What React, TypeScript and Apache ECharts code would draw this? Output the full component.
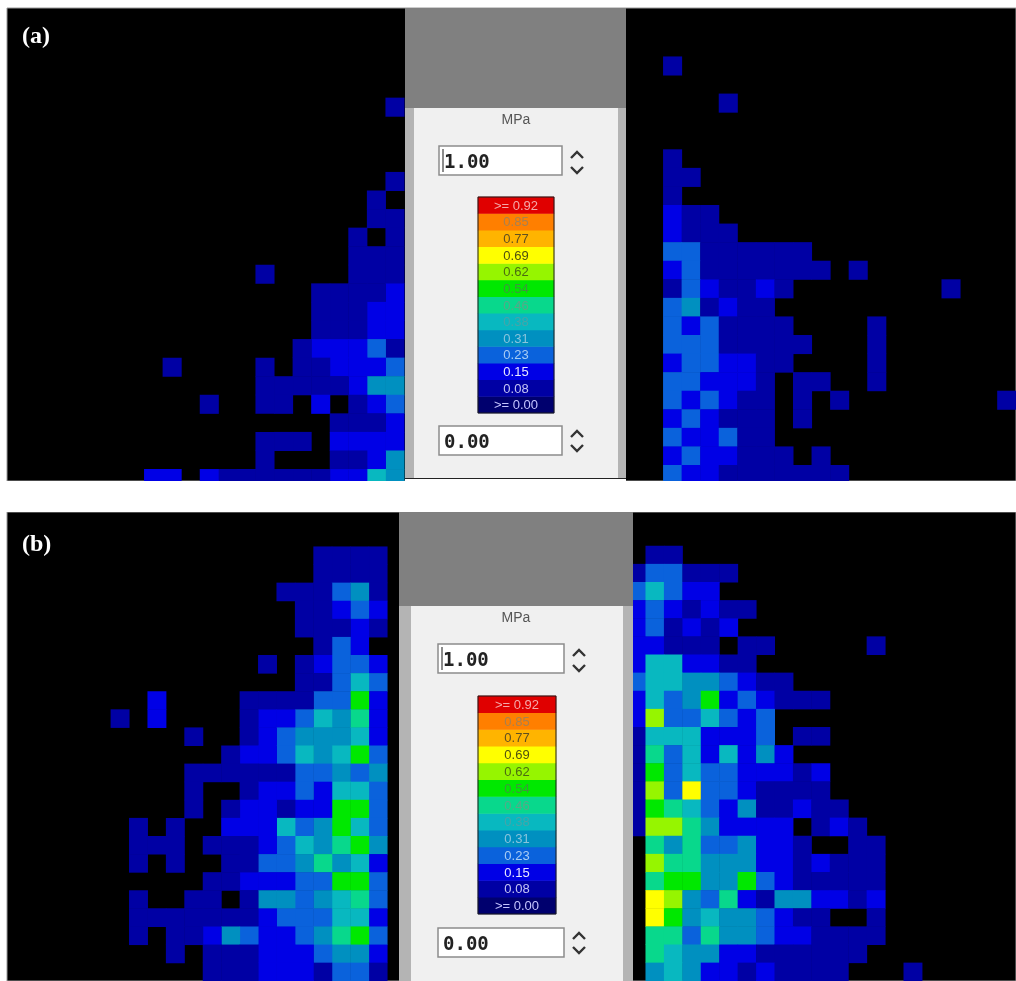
import React, { useEffect, useRef } from "react";
import * as echarts from "echarts";

// Colour scale, lowest to highest (MPa)
const levelValues = [0.0, 0.08, 0.15, 0.23, 0.31, 0.38, 0.46, 0.54, 0.62, 0.69, 0.77, 0.85, 0.92];
const levelColors = ["#00006e", "#0000a4", "#0000e6", "#0a62dc", "#0090c0", "#08b8c0", "#08d88c", "#00e800", "#96f500", "#ffff00", "#ffb400", "#ff7f00", "#e00000"];
const legendLabels = [">= 0.00", "0.08", "0.15", "0.23", "0.31", "0.38", "0.46", "0.54", "0.62", "0.69", "0.77", "0.85", ">= 0.92"];
const legendTextColors = ["#c4c4ff", "#c4c4f4", "#e8e8ff", "#a8ccf4", "#88c4dc", "#48a4a8", "#58a888", "#3c983c", "#4c6c10", "#505010", "#605020", "#a88050", "#f4a8a8"];

// Cells. In each row, position 0 is the column nearest the centre panel.
// Digit n = colour level index + 1 (1 = 0.00 ... 9 = 0.62, a = 0.69), "." = no value.
const rowsALeft = [
  "", "", "", "", "", "2", "", "", "", "2", ".2", "22", "2.2", "222", "222....2", "32222", "33222", "33222",
  "243332", "433322.2....2", "55322222", "432.3.22..2", "3222", "3333.222", "5322...2", "56332222223.33",
];
const rowsARight = [
  "2", "", "...2", "", "", "2", "22", "2", "322", "3222", "44222222", "342222222.2",
  "2432232........2", "452322", "4342222....2", "44422222...2", "3443322....2", "443332.22..2",
  "434322.2.2........2", "343222.2", "433422", "3433222.2", "4332222222",
];
const rowsBLeft = [
  "2222", "2222", "254222", "34322", "23222", ".342", "34432.2", "46422",
  "38442222....3", "37564332....3.2", "36555432..2", "486564332", "54544222222", "46634332..2",
  "488332332.2", "468546333..2.2", "5875643222.222", "365754422..2.2", "4884433322",
  "47654552.22..2", "36644432222222", "487543345322.2", "3554333222.2", "2442333222",
];
const rowsBRight = [
  ".22", "244222", "46433", "3432322", "342323", "33222.22.....2", "3663322", "466554322",
  "36458343222", "39446434", "26663334.22", "274636353", "28464433323", "294a4432222",
  "287643522322", "299753333.232", ".757445332..22", ".9775553323222", ".7885584322222",
  ".a954732553323", ".a856554322..2", ".7747554332222", ".765533222222", ".56533232222...2",
];
const topInput = "1.00";
const bottomInput = "0.00";
const unit = "MPa";

const toCells = (rows: string[], cols: number, mirrored: boolean) => {
  const out: number[][] = [];
  rows.forEach((row, y) => {
    row.split("").forEach((ch, i) => {
      if (ch === ".") return;
      out.push([mirrored ? cols - 1 - i : i, y, levelValues[parseInt(ch, 16) - 1]]);
    });
  });
  return out;
};
const idx = (n: number) => Array.from({ length: n }, (_, i) => String(i));

const grids: any[] = [];
const xAxes: any[] = [];
const yAxes: any[] = [];
const seriesList: any[] = [];

function addHeat(left: number, top: number, cols: number, rows: number, cw: number, ch: number, data: any[], extra: any = {}) {
  const i = grids.length;
  grids.push({ left, top, width: cols * cw, height: rows * ch, containLabel: false });
  xAxes.push({ type: "category", gridIndex: i, data: idx(cols), show: false });
  yAxes.push({ type: "category", gridIndex: i, data: idx(rows), inverse: true, show: false });
  seriesList.push({ type: "heatmap", xAxisIndex: i, yAxisIndex: i, data, itemStyle: { borderWidth: 0 }, z: 2, ...extra });
}

const CA = 18.57;
const CB = 18.43;
addHeat(14.3, 5.05, 21, rowsALeft.length, CA, CA, toCells(rowsALeft, 21, true));
addHeat(663.3, 56.7, 19, rowsARight.length, CA, CA, toCells(rowsARight, 19, false));
addHeat(0.27, 546.7, 21, rowsBLeft.length, CB, CB, toCells(rowsBLeft, 21, true));
addHeat(627.3, 546, 20, rowsBRight.length, CB, CB, toCells(rowsBRight, 20, false));

const legendCells = levelValues.map((v, i) => ({
  value: [0, levelValues.length - 1 - i, v],
  label: { color: legendTextColors[i] },
}));
const legendSeries = {
  z: 10,
  label: {
    show: true,
    fontSize: 13,
    fontFamily: "Liberation Sans",
    formatter: (p: any) => legendLabels[levelValues.indexOf(p.value[2])],
  },
};
addHeat(478, 197, 1, 13, 76, 216 / 13, legendCells, legendSeries);
addHeat(478, 696, 1, 13, 78, 218 / 13, legendCells, legendSeries);

const rect = (x: number, y: number, width: number, height: number, fill: string, z = 5, stroke?: string, lineWidth = 1) => ({
  type: "rect", silent: true, z, shape: { x, y, width, height }, style: { fill, stroke, lineWidth },
});
const chevron = (cx: number, cy: number, up: boolean) => ({
  type: "polyline", silent: true, z: 6,
  shape: { points: [[cx - 6, up ? cy + 3 : cy - 3], [cx, up ? cy - 3 : cy + 3], [cx + 6, up ? cy + 3 : cy - 3]] },
  style: { stroke: "#333", lineWidth: 2.4, fill: "none" },
});
const txt = (x: number, y: number, text: string, fill: string, font: any) => ({
  type: "text", silent: true, z: 7, x, y,
  style: { text, fill, textVerticalAlign: "middle", ...font },
});
const inputFont = { fontFamily: "DejaVu Sans Mono", fontWeight: "bold", fontSize: 19, textAlign: "left" };
const tagFont = { fontFamily: "Liberation Serif", fontWeight: "bold", fontSize: 24, textAlign: "left" };

function panel(p: any) {
  return [
    rect(p.x0, p.y0, p.x1 - p.x0, p.grayEnd - p.y0, "#808080"),
    rect(p.x0, p.grayEnd, p.x1 - p.x0, p.y1 - p.grayEnd, "#b4b4b4"),
    rect(p.innerX0, p.grayEnd, p.innerX1 - p.innerX0, p.y1 - p.grayEnd, "#f0f0f0"),
    txt(516, p.grayEnd + 11, unit, "#555555", { fontFamily: "Liberation Sans", fontSize: 14, textAlign: "center" }),
    rect(p.inputX, p.input1Y, p.inputW, 29, "#ffffff", 6, "#8c8c8c", 1.5),
    rect(p.inputX + 3, p.input1Y + 3, 2, 23, "#8c8c8c", 6),
    txt(p.inputX + 5, p.input1Y + 15, topInput, "#222222", inputFont),
    chevron(p.chevX, p.input1Y + 9, true),
    chevron(p.chevX, p.input1Y + 24, false),
    rect(p.barX, p.barY, p.barW, p.barH, "none", 12, "#1a1a1a", 1),
    rect(p.inputX, p.input2Y, p.inputW, 29, "#ffffff", 6, "#8c8c8c", 1.5),
    txt(p.inputX + 5, p.input2Y + 15, bottomInput, "#222222", inputFont),
    chevron(p.chevX, p.input2Y + 8, true),
    chevron(p.chevX, p.input2Y + 22, false),
  ];
}

const graphicElements: any[] = [
  rect(7, 8, 1009, 473, "#000000", -1, "#999999"),
  rect(7, 512, 1009, 469, "#000000", -1, "#999999"),
  rect(0, 481, 1016, 31, "#ffffff", 4),
  ...panel({ x0: 405, x1: 626, y0: 8, y1: 478, grayEnd: 108, innerX0: 414, innerX1: 618, inputX: 439, inputW: 123, input1Y: 146, input2Y: 426, chevX: 577, barX: 478, barY: 197, barW: 76, barH: 216 }),
  rect(405, 478, 221, 1, "#222222", 5),
  rect(405, 479, 221, 2, "#ffffff", 5),
  ...panel({ x0: 399, x1: 633, y0: 512, y1: 981, grayEnd: 606, innerX0: 411, innerX1: 623, inputX: 438, inputW: 126, input1Y: 644, input2Y: 928, chevX: 579, barX: 478, barY: 696, barW: 78, barH: 218 }),
  txt(22, 35, "(a)", "#ffffff", tagFont),
  txt(22, 543, "(b)", "#ffffff", tagFont),
];

const visualPieces = levelValues.map((v, i) => ({
  gte: v,
  lt: i + 1 < levelValues.length ? levelValues[i + 1] : 1.01,
  color: levelColors[i],
}));

export default function App() {
  const ref = useRef<HTMLDivElement>(null);
  useEffect(() => {
    document.body.style.margin = "0";
    document.documentElement.style.overflow = "hidden";
    const chart = echarts.init(ref.current!, undefined, { renderer: "svg" });
    chart.setOption({
      animation: false,
      backgroundColor: "#ffffff",
      tooltip: { show: false },
      grid: grids,
      xAxis: xAxes,
      yAxis: yAxes,
      visualMap: { type: "piecewise", show: false, dimension: 2, seriesIndex: seriesList.map((_, i) => i), pieces: visualPieces },
      graphic: { elements: graphicElements },
      series: seriesList,
    });
    return () => chart.dispose();
  }, []);
  return <div ref={ref} style={{ width: 1016, height: 981, filter: "blur(0.5px)" }} />;
}
